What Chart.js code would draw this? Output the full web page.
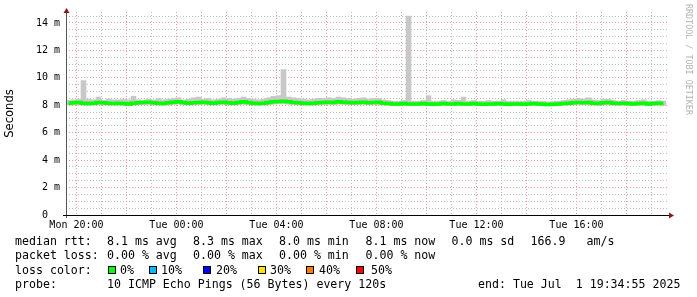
<!DOCTYPE html>
<html><head><meta charset="utf-8">
<script src="https://cdn.jsdelivr.net/npm/chart.js@4"></script>
<style>
html,body{margin:0;padding:0;background:#fff;}
#wrap{position:relative;width:697px;height:297px;overflow:hidden;background:#fff;}
canvas{position:absolute;left:0;top:0;}
.t{position:absolute;font-family:"DejaVu Sans Mono",monospace;font-size:11.6px;line-height:14px;white-space:pre;color:#000;}
.b{position:absolute;width:8px;height:8px;box-sizing:border-box;border:1px solid #000;}
#rrd{position:absolute;left:684px;top:4px;writing-mode:vertical-rl;font-family:"DejaVu Sans Mono",monospace;font-size:8.4px;color:#b4b4b4;white-space:pre;line-height:9px;}
</style></head>
<body><div id="wrap"><canvas id="c" width="697" height="297"></canvas>
<div id="legend"></div>
<div id="rrd">RRDTOOL / TOBI OETIKER</div>
</div>
<script>
// ---- time axis (hours since Monday 00:00) ----
const START_H = 19 + 34/60 + 55/3600;   // Mon 19:34:55
const STEP_H = 0.2;                      // 12-minute samples
const X_MAX_H = START_H + 24.12;

// ---- tick labels ----
const xTickHours = [20,21,22,23,24,25,26,27,28,29,30,31,32,33,34,35,36,37,38,39,40,41,42,43];
const xLabelHours = [20,24,28,32,36,40];
const xLabels = ['Mon 20:00','Tue 00:00','Tue 04:00','Tue 08:00','Tue 12:00','Tue 16:00'];
const yTickValues = [0,0.5,1,1.5,2,2.5,3,3.5,4,4.5,5,5.5,6,6.5,7,7.5,8,8.5,9,9.5,10,10.5,11,11.5,12,12.5,13,13.5,14,14.5];
const yLabelValues = [0,2,4,6,8,10,12,14];
const yLabels = ['0  ','2 m','4 m','6 m','8 m','10 m','12 m','14 m'];

// ---- series (ms) ----
const medianRtt = [
 8.15,8.18,8.2,8.15,8.12,8.15,8.2,8.18,8.15,8.12,
 8.15,8.12,8.1,8.15,8.18,8.2,8.22,8.18,8.15,8.12,
 8.18,8.22,8.25,8.2,8.15,8.18,8.2,8.22,8.18,8.15,
 8.2,8.22,8.18,8.15,8.2,8.25,8.2,8.15,8.12,8.15,
 8.2,8.25,8.28,8.3,8.25,8.2,8.18,8.15,8.12,8.15,
 8.18,8.2,8.22,8.2,8.25,8.22,8.2,8.18,8.2,8.22,
 8.18,8.2,8.22,8.15,8.12,8.1,8.1,8.12,8.1,8.1,
 8.1,8.12,8.1,8.08,8.1,8.12,8.1,8.1,8.12,8.1,
 8.1,8.12,8.1,8.08,8.1,8.1,8.12,8.1,8.08,8.1,
 8.1,8.08,8.1,8.12,8.1,8.08,8.06,8.08,8.1,8.12,
 8.15,8.18,8.2,8.18,8.2,8.15,8.12,8.18,8.2,8.15,
 8.12,8.15,8.12,8.1,8.12,8.15,8.1,8.12,8.15,8.12];
const smokeHigh = [
 8.35,8.4,8.45,9.8,8.45,8.4,8.6,8.35,8.45,8.4,
 8.4,8.45,8.4,8.65,8.4,8.35,8.45,8.4,8.5,8.4,
 8.45,8.5,8.55,8.4,8.45,8.55,8.6,8.45,8.5,8.4,
 8.45,8.55,8.5,8.45,8.5,8.6,8.5,8.45,8.4,8.45,
 8.55,8.65,8.7,10.6,8.6,8.55,8.5,8.45,8.4,8.45,
 8.5,8.5,8.55,8.5,8.6,8.55,8.5,8.45,8.5,8.55,
 8.45,8.5,8.5,8.4,8.35,8.3,8.3,8.35,14.5,8.3,
 8.3,8.35,8.7,8.3,8.3,8.35,8.3,8.4,8.35,8.6,
 8.3,8.35,8.3,8.3,8.35,8.3,8.3,8.4,8.3,8.3,
 8.3,8.3,8.35,8.3,8.3,8.3,8.25,8.3,8.3,8.35,
 8.4,8.45,8.5,8.45,8.55,8.4,8.35,8.45,8.45,8.35,
 8.3,8.35,8.3,8.3,8.35,8.4,8.3,8.3,8.35,8.3];
const smokeLow = [
 8.02,8.05,8.05,8.02,8.0,8.02,8.05,8.04,8.02,8.0,
 8.02,8.0,7.98,8.02,8.05,8.05,8.06,8.04,8.02,8.0,
 8.04,8.06,8.08,8.05,8.02,8.04,8.05,8.06,8.04,8.02,
 8.05,8.06,8.04,8.02,8.05,8.08,8.05,8.02,8.0,8.02,
 8.05,8.08,8.1,8.1,8.08,8.05,8.04,8.02,8.0,8.02,
 8.04,8.05,8.06,8.05,8.08,8.06,8.05,8.04,8.05,8.06,
 8.04,8.05,8.06,8.02,8.0,7.98,7.98,8.0,7.98,7.98,
 7.98,8.0,7.98,7.96,7.98,8.0,7.98,7.98,8.0,7.98,
 7.98,8.0,7.98,7.96,7.98,7.98,8.0,7.98,7.96,7.98,
 7.98,7.96,7.98,8.0,7.98,7.96,7.95,7.96,7.98,8.0,
 8.02,8.04,8.06,8.04,8.06,8.02,8.0,8.04,8.06,8.02,
 8.0,8.02,8.0,7.98,8.0,8.02,7.98,8.0,8.02,8.0];

// ---- legend text ----
const lossColors = ['#00ff00','#00bbff','#0000ff','#ffe400','#ff8000','#ff0000'];
const lossLabels = ['0%','10%','20%','30%','40%','50%'];

const sampleTime = i => START_H + (i + 0.5) * STEP_H;
const medianPts = medianRtt.map((v,i)=>({x:sampleTime(i), y:v}));
const smokePts = smokeHigh.map((v,i)=>({x:sampleTime(i), y:[smokeLow[i], v]}));

const MAJOR = 'rgba(235,120,120,0.75)';
const MINOR = 'rgba(170,170,170,0.75)';

const axisPlugin = {
  id:'rrdAxes',
  afterDraw(chart){
    const {ctx, chartArea:a} = chart;
    ctx.save();
    ctx.lineWidth = 1;
    ctx.strokeStyle = '#555';
    ctx.beginPath(); ctx.moveTo(a.left+0.5, a.bottom+3); ctx.lineTo(a.left+0.5, a.top-1); ctx.stroke();
    ctx.strokeStyle = '#000';
    ctx.beginPath(); ctx.moveTo(a.left-3, a.bottom+0.5); ctx.lineTo(a.right+1, a.bottom+0.5); ctx.stroke();
    ctx.fillStyle = '#8b1a1a';
    ctx.beginPath(); ctx.moveTo(a.left+0.5, a.top-4); ctx.lineTo(a.left-2.5, a.top+1); ctx.lineTo(a.left+3.5, a.top+1); ctx.closePath(); ctx.fill();
    ctx.beginPath(); ctx.moveTo(a.right+5, a.bottom+0.5); ctx.lineTo(a.right, a.bottom-2.5); ctx.lineTo(a.right, a.bottom+3.5); ctx.closePath(); ctx.fill();
    ctx.restore();
  }
};

new Chart(document.getElementById('c'), {
  type:'line',
  data:{ datasets:[
    {type:'line', data:medianPts, borderColor:'#00ff00', borderWidth:3.5, pointRadius:0, stepped:'middle', order:0},
    {type:'bar', data:smokePts, backgroundColor:'#c8c8c8', borderWidth:0, barPercentage:1, categoryPercentage:1, order:1}
  ]},
  options:{
    responsive:false, animation:false, devicePixelRatio:1,
    layout:{padding:{left:0, top:12, right:28, bottom:62}},
    plugins:{legend:{display:false}, tooltip:{enabled:false}},
    scales:{
      x:{type:'linear', min:START_H, max:X_MAX_H, offset:false,
        afterBuildTicks(s){ s.ticks = xTickHours.map(v=>({value:v})); },
        afterFit(s){ s.height = 20; },
        ticks:{autoSkip:false, maxRotation:0, padding:4, color:'#000',
          font:{family:'"DejaVu Sans Mono", monospace', size:10},
          callback(v){ const k = xLabelHours.indexOf(v); return k>=0 ? xLabels[k] : ''; }},
        grid:{offset:false, drawTicks:false, lineWidth:1,
          color:c=> (c.tick && c.tick.value%2===0) ? MAJOR : MINOR},
        border:{display:false, dash:[1,2]}
      },
      y:{type:'linear', min:0, max:14.8,
        afterBuildTicks(s){ s.ticks = yTickValues.map(v=>({value:v})); },
        afterFit(s){ s.width = 66; },
        title:{display:true, text:'Seconds', color:'#000', padding:{top:3,bottom:0},
          font:{family:'"DejaVu Sans", sans-serif', size:11.6}},
        ticks:{autoSkip:false, padding:6, color:'#000',
          font:{family:'"DejaVu Sans Mono", monospace', size:10},
          callback(v){ const k = yLabelValues.indexOf(v); return k>=0 ? yLabels[k] : ''; }},
        grid:{drawTicks:false, lineWidth:1,
          color:c=> (c.tick && c.tick.value%2===0) ? MAJOR : MINOR},
        border:{display:false, dash:[1,2]}
      }
    }
  },
  plugins:[axisPlugin]
});

// ---- legend lines ----
const legendChunks = [
  [15,233.5,'median rtt:'],[107,233.5,'8.1 ms avg'],[193,233.5,'8.3 ms max'],[279,233.5,'8.0 ms min'],
  [365.5,233.5,'8.1 ms now'],[451.5,233.5,'0.0 ms sd'],[530.5,233.5,'166.9'],[586.5,233.5,'am/s'],
  [15,248,'packet loss:'],[107,248,'0.00 % avg'],[193,248,'0.00 % max'],[279,248,'0.00 % min'],[365.5,248,'0.00 % now'],
  [15,262.5,'loss color:'],
  [15,277,'probe:'],[107,277,'10 ICMP Echo Pings (56 Bytes) every 120s'],[478,277,'end: Tue Jul  1 19:34:55 2025']
];
const boxX = [108,149,203,258,306,356];
const boxLabelX = [120,161,216,270,319,371];
const lg = document.getElementById('legend');
let html = '';
legendChunks.forEach(([x,y,t])=>{ html += `<div class="t" style="left:${x}px;top:${y}px">${t}</div>`; });
lossColors.forEach((col,i)=>{
  html += `<div class="b" style="left:${boxX[i]}px;top:266px;background:${col}"></div>`;
  html += `<div class="t" style="left:${boxLabelX[i]}px;top:262.5px">${lossLabels[i]}</div>`;
});
lg.innerHTML = html;
</script>
</body></html>
